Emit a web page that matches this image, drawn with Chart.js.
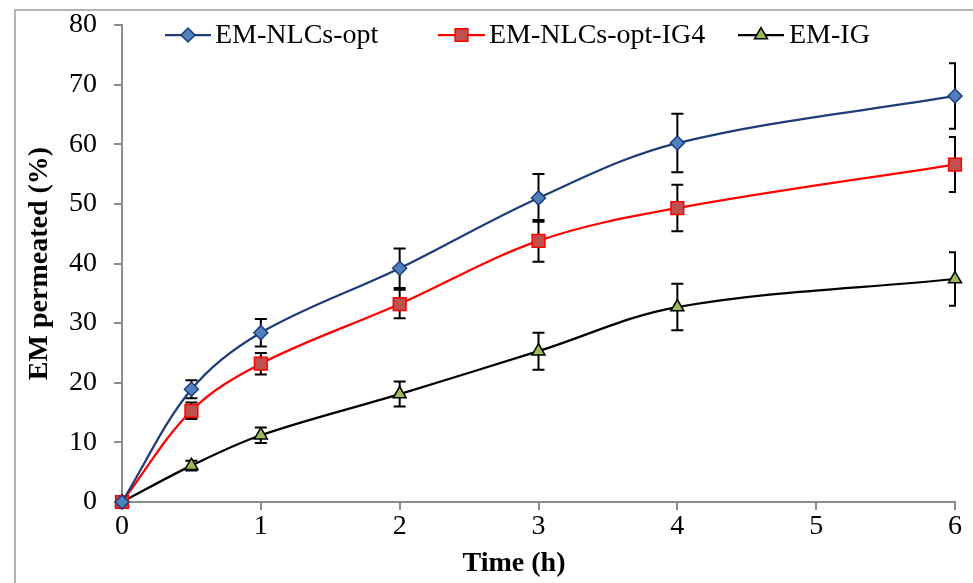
<!DOCTYPE html>
<html>
<head>
<meta charset="utf-8">
<script src="https://cdn.jsdelivr.net/npm/chart.js@4.4.1/dist/chart.umd.min.js"></script>
<style>
  html, body { margin: 0; padding: 0; background: #fff; }
  #wrap { position: relative; width: 973px; height: 583px; }
</style>
</head>
<body>
<div id="wrap"><canvas id="chart" width="973" height="583"></canvas></div>
<script>
const timeH = [0, 0.5, 1, 2, 3, 4, 6];
const xTicks = [0, 1, 2, 3, 4, 5, 6];
const yTicks = [0, 10, 20, 30, 40, 50, 60, 70, 80];

const nlcsOpt = [0, 18.9, 28.4, 39.2, 51.0, 60.2, 68.1];
const nlcsOptErr = [0, 1.5, 2.3, 3.3, 4.0, 4.9, 5.5];
const nlcsOptIg4 = [0, 15.3, 23.2, 33.2, 43.8, 49.3, 56.6];
const nlcsOptIg4Err = [0, 1.4, 1.8, 2.4, 3.5, 3.9, 4.6];
const emIg = [0, 6.1, 11.2, 18.1, 25.3, 32.7, 37.4];
const emIgErr = [0, 0.8, 1.3, 2.1, 3.1, 3.9, 4.5];

const serif = "'Liberation Serif', 'Times New Roman', serif";
const axisGray = "#8c8c8c";

function toPoints(values) {
  return values.map((v, i) => ({ x: timeH[i], y: v }));
}

// vertical error bars with caps, drawn under the lines
const errorBars = {
  id: "errorBars",
  beforeDatasetsDraw(chart) {
    const ctx = chart.ctx;
    const y = chart.scales.y;
    const area = chart.chartArea;
    ctx.save();
    ctx.beginPath();
    ctx.rect(area.left - 10, area.top - 10, area.right - area.left + 11, area.bottom - area.top + 20);
    ctx.clip();
    ctx.strokeStyle = "#000";
    ctx.lineWidth = 2;
    chart.data.datasets.forEach((ds, di) => {
      const meta = chart.getDatasetMeta(di);
      meta.data.forEach((pt, i) => {
        const err = ds.errors[i];
        if (!err) return;
        const top = y.getPixelForValue(ds.data[i].y + err);
        const bot = y.getPixelForValue(ds.data[i].y - err);
        ctx.beginPath();
        ctx.moveTo(pt.x, top); ctx.lineTo(pt.x, bot);
        ctx.moveTo(pt.x - 6, top); ctx.lineTo(pt.x + 6, top);
        ctx.moveTo(pt.x - 6, bot); ctx.lineTo(pt.x + 6, bot);
        ctx.stroke();
      });
    });
    ctx.restore();
  }
};

// legend with line + marker, placed inside the top of the plot
const legendPos = [
  { x1: 165, x2: 211, tx: 215 },
  { x1: 438, x2: 485, tx: 489 },
  { x1: 738, x2: 784, tx: 789 }
];
const lineLegend = {
  id: "lineLegend",
  afterDraw(chart) {
    const ctx = chart.ctx;
    const ly = 35;
    ctx.save();
    chart.data.datasets.forEach((ds, i) => {
      const p = legendPos[i];
      ctx.strokeStyle = ds.borderColor;
      ctx.lineWidth = 2.25;
      ctx.beginPath();
      ctx.moveTo(p.x1, ly); ctx.lineTo(p.x2, ly);
      ctx.stroke();
      ctx.fillStyle = ds.pointBackgroundColor;
      ctx.strokeStyle = ds.pointBorderColor;
      ctx.lineWidth = ds.pointBorderWidth;
      Chart.helpers.drawPoint(ctx, { pointStyle: ds.pointStyle, radius: ds.pointRadius, borderWidth: ds.pointBorderWidth }, (p.x1 + p.x2) / 2, ly);
      ctx.fillStyle = "#000";
      ctx.font = "28px " + serif;
      ctx.textBaseline = "middle";
      ctx.fillText(ds.label, p.tx, ly + 1);
    });
    ctx.restore();
  }
};

// thin picture frame on the left and top
const frame = {
  id: "frame",
  beforeDraw(chart) {
    const ctx = chart.ctx;
    ctx.save();
    ctx.strokeStyle = "#9a9a9a";
    ctx.lineWidth = 1.5;
    ctx.beginPath();
    ctx.moveTo(15, 583); ctx.lineTo(15, 10); ctx.lineTo(973, 10);
    ctx.stroke();
    ctx.restore();
  }
};

new Chart(document.getElementById("chart"), {
  type: "line",
  data: {
    datasets: [
      {
        label: "EM-NLCs-opt",
        data: toPoints(nlcsOpt),
        errors: nlcsOptErr,
        borderColor: "#1f3c78",
        borderWidth: 2.25,
        pointStyle: "rectRot",
        pointRadius: 7,
        pointBackgroundColor: "#4f81bd",
        pointBorderColor: "#1f3c78",
        pointBorderWidth: 1.5,
        tension: 0.35
      },
      {
        label: "EM-NLCs-opt-IG4",
        data: toPoints(nlcsOptIg4),
        errors: nlcsOptIg4Err,
        borderColor: "#ff0000",
        borderWidth: 2.25,
        pointStyle: "rect",
        pointRadius: 9,
        pointBackgroundColor: "#c0504d",
        pointBorderColor: "#ff0000",
        pointBorderWidth: 1.5,
        tension: 0.35
      },
      {
        label: "EM-IG",
        data: toPoints(emIg),
        errors: emIgErr,
        borderColor: "#000000",
        borderWidth: 2.25,
        pointStyle: "triangle",
        pointRadius: 7.5,
        pointBackgroundColor: "#9bbb59",
        pointBorderColor: "#000000",
        pointBorderWidth: 1.5,
        tension: 0.35
      }
    ]
  },
  options: {
    responsive: false,
    animation: false,
    devicePixelRatio: 1,
    clip: false,
    layout: { padding: { left: 0, top: 25, right: 18, bottom: 0 } },
    plugins: {
      legend: { display: false },
      tooltip: { enabled: false }
    },
    scales: {
      x: {
        type: "linear",
        min: 0,
        max: 6,
        afterBuildTicks: s => { s.ticks = xTicks.map(v => ({ value: v })); },
        afterFit: s => { s.height = 81; s.paddingLeft = 0; s.paddingRight = 0; },
        grid: { display: true, drawOnChartArea: false, drawTicks: true, tickLength: 8, color: axisGray, lineWidth: 2 },
        border: { display: true, color: axisGray, width: 2 },
        ticks: { color: "#000", font: { family: serif, size: 28 }, padding: 0, maxRotation: 0 },
        title: { display: true, text: "Time (h)\u00a0\u00a0\u00a0\u00a0\u00a0\u00a0\u00a0", color: "#000", font: { family: serif, size: 28, weight: "bold" }, padding: { top: 0, bottom: 2 } }
      },
      y: {
        min: 0,
        max: 80,
        afterBuildTicks: s => { s.ticks = yTicks.map(v => ({ value: v })); },
        afterFit: s => { s.width = 122; s.paddingTop = 0; s.paddingBottom = 0; },
        grid: { display: true, drawOnChartArea: false, drawTicks: true, tickLength: 8, color: axisGray, lineWidth: 2 },
        border: { display: true, color: axisGray, width: 2 },
        ticks: { color: "#000", font: { family: serif, size: 28 }, padding: 17 },
        title: { display: true, text: "EM permeated (%)", color: "#000", font: { family: serif, size: 28, weight: "bold" }, padding: { top: 23, bottom: 0 } }
      }
    }
  },
  plugins: [frame, errorBars, lineLegend]
});
</script>
</body>
</html>
